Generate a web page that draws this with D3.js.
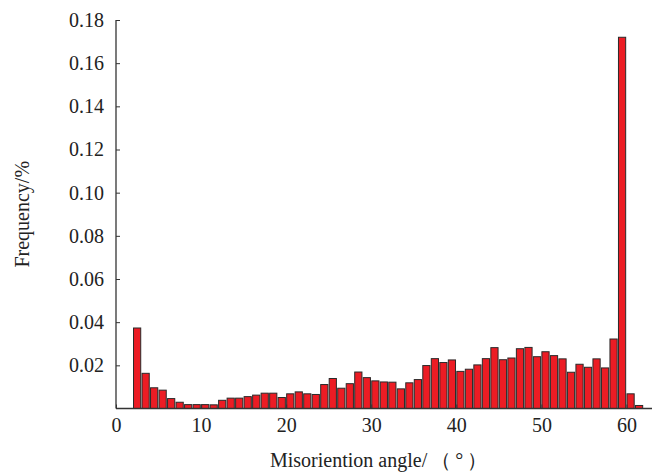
<!DOCTYPE html>
<html>
<head>
<meta charset="utf-8">
<script src="https://cdn.jsdelivr.net/npm/d3@7"></script>
<style>
  body { margin: 0; background: #fff; }
</style>
</head>
<body>
<script>
// bin start (degrees), each bin is 1 degree wide
const angles = d3.range(2, 62);
const freq = [
  0.0373, 0.0163, 0.0096, 0.0085, 0.0046, 0.0029, 0.0018, 0.0018, 0.0018, 0.0017,
  0.0038, 0.0048, 0.0048, 0.0055, 0.0062, 0.0071, 0.0071, 0.0051, 0.0068, 0.0077,
  0.0068, 0.0065, 0.0111, 0.0139, 0.0094, 0.0115, 0.0169, 0.0143, 0.0128, 0.0123,
  0.0122, 0.0091, 0.0119, 0.0134, 0.0199, 0.0231, 0.0213, 0.0225, 0.0172, 0.0182,
  0.0202, 0.0231, 0.0282, 0.0226, 0.0234, 0.0277, 0.0283, 0.0240, 0.0263, 0.0245,
  0.0230, 0.0168, 0.0205, 0.0191, 0.0230, 0.0188, 0.0322, 0.1720, 0.0068, 0.0014
];
const xTicks = [0, 10, 20, 30, 40, 50, 60];
const yTicks = [0.02, 0.04, 0.06, 0.08, 0.10, 0.12, 0.14, 0.16, 0.18];

const W = 654, H = 473;
const margin = {top: 20, right: 2, bottom: 64, left: 116};
const serif = '"Liberation Serif", "DejaVu Serif", serif';

const svg = d3.select("body").append("svg")
  .attr("width", W)
  .attr("height", H);

const x = d3.scaleLinear().domain([0, 63]).range([margin.left, W - margin.right]);
const y = d3.scaleLinear().domain([0, 0.18]).range([H - margin.bottom - 0.5, margin.top]);

// bars
svg.append("g")
  .selectAll("rect")
  .data(angles)
  .enter()
  .append("rect")
  .attr("x", (d, i) => x(d) + 0.5)
  .attr("width", x(1) - x(0) - 1.3)
  .attr("y", (d, i) => y(freq[i]))
  .attr("height", (d, i) => y(0) - y(freq[i]))
  .style("fill", "#ec1c24")
  .style("stroke", "#2a2a2a")
  .style("stroke-width", 1);

// x axis
const xAxis = svg.append("g")
  .attr("font-family", serif)
  .attr("transform", `translate(0,${y(0)})`)
  .call(d3.axisBottom(x).tickValues(xTicks).tickSize(-4).tickPadding(9).tickFormat(d3.format("d")));
xAxis.attr("font-family", serif);
xAxis.select(".domain").attr("d", `M${x(0)},0H${x(63)}`).style("stroke", "#333").style("stroke-width", 1.3);
xAxis.selectAll(".tick line").style("stroke", "#333");
xAxis.selectAll("text")
  .style("font-family", serif).style("font-size", "20px").attr("fill", "#222");

// y axis
const yAxis = svg.append("g")
  .attr("transform", `translate(${x(0)},0)`)
  .call(d3.axisLeft(y).tickValues(yTicks).tickSize(-4).tickPadding(12).tickFormat(d3.format(".2f")));
yAxis.attr("font-family", serif);
yAxis.select(".domain").attr("d", `M0,${y(0.18)}V${y(0)}`).style("stroke", "#333").style("stroke-width", 1.3);
yAxis.selectAll(".tick line").style("stroke", "#333");
yAxis.selectAll("text")
  .style("font-family", serif).style("font-size", "20px").attr("fill", "#222");

// axis titles
const xTitle = svg.append("text")
  .attr("x", 270)
  .attr("y", 467)
  .style("font-family", serif)
  .style("font-size", "20px")
  .attr("fill", "#222");
xTitle.append("tspan").text("Misoriention angle/");
xTitle.append("tspan").attr("dx", 4).style("letter-spacing", "4px").text("（°）");

svg.append("text")
  .attr("transform", `translate(29,${(y(0) + y(0.18)) / 2}) rotate(-90)`)
  .attr("text-anchor", "middle")
  .style("font-family", serif)
  .style("font-size", "20px")
  .attr("fill", "#222")
  .text("Frequency/%");
</script>
</body>
</html>
